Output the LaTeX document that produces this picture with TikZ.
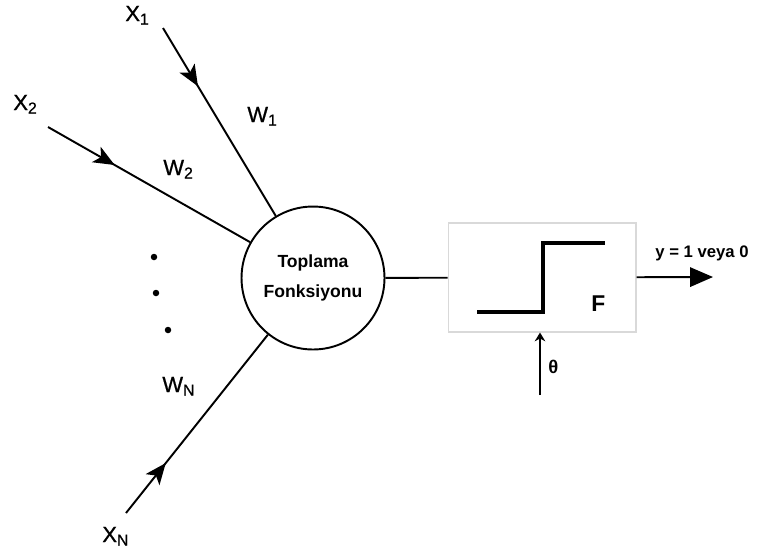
\documentclass[tikz,border=0pt]{standalone}
\usepackage{fontspec}
\setmainfont{Liberation Sans}
\newfontfamily\medfont[FakeBold=0.8]{Liberation Sans}
\usetikzlibrary{arrows.meta,decorations.markings}

\newcommand{\idx}[2]{#1\raisebox{-2pt}{\fontsize{9}{10}\selectfont #2}}

\begin{document}
\begin{tikzpicture}[x=0.02cm, y=-0.02cm,
    wire/.style={line width=1.1pt},
    inarrow/.style={wire, postaction={decorate}, decoration={markings,
        mark=at position #1 with {\arrow{Stealth[length=12pt,width=10pt,inset=3pt]}}}},
    lbl/.style={anchor=base west, inner sep=0, font=\medfont\fontsize{12.5}{14}\selectfont},
    dot/.style={circle, fill, inner sep=0, minimum size=0.13cm}]
  \useasboundingbox (0,0) rectangle (759,556);

  % Summation node
  \node[circle, draw, line width=1.1pt, minimum size=2.86cm, inner sep=0,
        align=center, font=\fontsize{10}{17}\selectfont\bfseries] (sum) at (313,278)
        {Toplama\\Fonksiyonu};

  % Inputs
  \coordinate (s1) at (163,28);
  \coordinate (s2) at (48,127);
  \coordinate (sn) at (126,513);
  \node[lbl] (x1) at (125,21) {\idx{X}{1}};
  \node[lbl] (x2) at (13,110) {\idx{X}{2}};
  \node[lbl] (xn) at (102,542) {\idx{X}{N}};
  \node[lbl] (w1) at (247,122) {\idx{W}{1}};
  \node[lbl] (w2) at (163,175) {\idx{W}{2}};
  \node[lbl] (wn) at (162,392) {\idx{W}{N}};

  \draw[inarrow=0.31] (s1) -- (sum);
  \draw[inarrow=0.33] (s2) -- (sum);
  \draw[inarrow=0.28] (sn) -- (sum);

  % Dots
  \node[dot] (d1) at (154,257) {};
  \node[dot] (d2) at (156,293) {};
  \node[dot] (d3) at (168,330) {};

  % Activation box
  \node[draw=gray!30, line width=0.6pt, minimum width=3.76cm, minimum height=2.18cm,
        inner sep=0] (act) at (542,277.5) {};
  \draw[wire] (sum) -- (act);
  \draw[line width=2.6pt] (477,312) -- (543,312) -- (543,243) -- (605,243);
  \node[anchor=base west, inner sep=0, font=\fontsize{13}{15}\selectfont\bfseries] (f) at (591,311) {F};

  % Output
  \coordinate (out) at (713,277);
  \draw[wire, -{Triangle[length=13pt,width=11pt]}] (act) -- (out);
  \node[anchor=base west, inner sep=0, font=\fontsize{9.5}{11}\selectfont\bfseries] (y) at (655,257)
        {y = 1 veya 0};

  % Threshold
  \coordinate (th) at (540,395);
  \draw[wire, -{Stealth[length=5pt,width=6pt]}] (th) -- (th |- act.south);
  \node[anchor=base west, inner sep=0, font=\fontsize{10.5}{12}\selectfont\bfseries] (theta) at (548,373) {θ};
\end{tikzpicture}
\end{document}
